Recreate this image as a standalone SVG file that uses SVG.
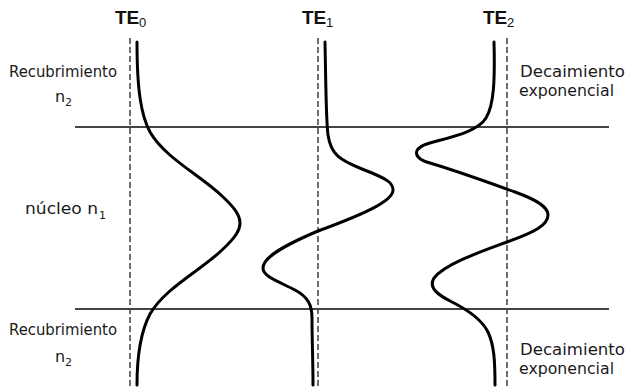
<svg xmlns="http://www.w3.org/2000/svg" width="627" height="389" viewBox="0 0 627 389">
<style>
.te{font-family:"Liberation Sans",Arial,sans-serif;font-weight:bold;font-size:19px;fill:#111}
.sub{font-family:"Liberation Sans",Arial,sans-serif;font-size:13px;fill:#111}
.lbl{font-family:"DejaVu Sans","Liberation Sans",sans-serif;font-size:16px;fill:#1a1a1a}
.lsub{font-family:"DejaVu Sans","Liberation Sans",sans-serif;font-size:11px;fill:#1a1a1a}
.dash{stroke:#222;stroke-width:1.3;stroke-dasharray:6,3;fill:none}
.hl{stroke:#444;stroke-width:2;fill:none}
.mode{stroke:#000;stroke-width:3;fill:none;stroke-linecap:round}
</style>
<rect width="627" height="389" fill="#fff"/>
<g id="guides">
<line class="dash" x1="130" y1="38" x2="130" y2="387"/>
<line class="dash" x1="318" y1="38" x2="318" y2="387"/>
<line class="dash" x1="507" y1="38" x2="507" y2="387"/>
<line class="hl" x1="75" y1="127" x2="609" y2="127"/>
<line class="hl" x1="75" y1="309" x2="609" y2="309"/>
</g>
<g id="TE0">
<text class="te" x="115" y="24">TE</text><text class="sub" x="139" y="27">0</text>
<path class="mode" d="M137,42 C137,90 141,115 150,132 C165,158 200,175 222,196 C236,209 240,216 240,223 C240,230 236,237 222,250 C200,271 165,288 150,314 C141,331 137,356 137,385"/>
</g>
<g id="TE1">
<text class="te" x="302" y="24">TE</text><text class="sub" x="326" y="27">1</text>
<path class="mode" d="M325,42 C326,90 326,120 328,135 C331,155 340,160 362,169 C388,179 393,183 393,190 C393,200 370,212 318,231 C285,245 263,257 263,268 C263,277 280,282 295,290 C308,297 312,305 312,318 C312,340 313,360 313,385"/>
</g>
<g id="TE2">
<text class="te" x="483" y="24">TE</text><text class="sub" x="507" y="27">2</text>
<path class="mode" d="M494,42 C495,80 494,105 486,118 C478,131 455,136 430,143 C412,148 412,158 430,163 C460,172 490,183 515,192 C540,201 548,208 548,215 C548,225 535,232 507,242 C480,252 445,264 434,278 C428,288 438,295 452,302 C470,311 482,320 488,332 C494,345 495,360 495,385"/>
</g>
<g id="labels">
<text class="lbl" x="9" y="77" textLength="108" lengthAdjust="spacingAndGlyphs">Recubrimiento</text>
<text class="lbl" x="55" y="102">n</text><text class="lsub" x="65" y="106">2</text>
<text class="lbl" x="25" y="214" textLength="73" lengthAdjust="spacingAndGlyphs">núcleo n</text><text class="lsub" x="99" y="219">1</text>
<text class="lbl" x="9" y="335" textLength="108" lengthAdjust="spacingAndGlyphs">Recubrimiento</text>
<text class="lbl" x="55" y="362">n</text><text class="lsub" x="65" y="366">2</text>
<text class="lbl" x="520" y="77" textLength="105" lengthAdjust="spacingAndGlyphs">Decaimiento</text>
<text class="lbl" x="519" y="96" textLength="95" lengthAdjust="spacingAndGlyphs">exponencial</text>
<text class="lbl" x="520" y="355" textLength="105" lengthAdjust="spacingAndGlyphs">Decaimiento</text>
<text class="lbl" x="519" y="374" textLength="95" lengthAdjust="spacingAndGlyphs">exponencial</text>
</g>
</svg>
